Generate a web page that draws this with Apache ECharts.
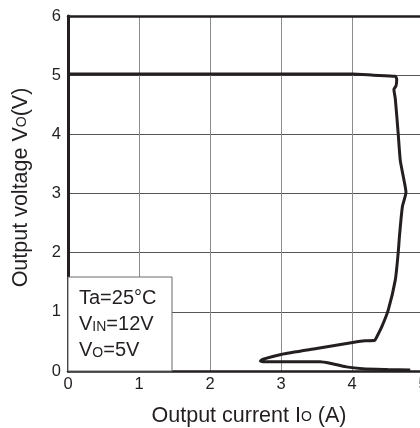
<!DOCTYPE html>
<html><head><meta charset="utf-8">
<script src="https://cdn.jsdelivr.net/npm/echarts@6/dist/echarts.min.js"></script>
<style>html,body{margin:0;padding:0;background:#fff}#c{width:420px;height:428px}</style>
</head><body><div id="c"></div>
<script>
const xTicks = [0, 1, 2, 3, 4, 5];
const yTicks = [0, 1, 2, 3, 4, 5, 6];
const currentA = [0, 1, 2, 3, 4.0, 4.3, 4.61, 4.63, 4.62, 4.59, 4.61, 4.65, 4.68, 4.72, 4.76, 4.71, 4.67, 4.65, 4.61, 4.51, 4.42, 4.35, 4.32, 4.18, 4.01, 3.5, 3.0, 2.75, 2.71, 2.79, 3.55, 3.69, 3.92, 4.15, 4.5, 4.82];
const voltageV = [5.02, 5.02, 5.02, 5.02, 5.02, 5.0, 4.98, 4.93, 4.82, 4.76, 4.6, 4.02, 3.56, 3.3, 3.02, 2.78, 2.3, 1.99, 1.54, 1.03, 0.75, 0.58, 0.52, 0.51, 0.48, 0.38, 0.28, 0.2, 0.17, 0.155, 0.155, 0.13, 0.07, 0.04, 0.025, 0.015];
const noteLines = ['Ta=25°C', 'V{s|IN}=12V', 'V{s|O}=5V'];

const font = 'Liberation Sans, Arial, sans-serif';
const ink = '#231f20';
const chart = echarts.init(document.getElementById('c'));
chart.setOption({
  animation: false,
  grid: { left: 68, top: 16, width: 355, height: 355, containLabel: false, outerBoundsMode: 'none' },
  xAxis: [{
    type: 'value', min: 0, max: 5, interval: 1,
    name: 'Output current I{s|O} (A)', nameLocation: 'middle', nameGap: 34,
    nameTextStyle: { fontFamily: font, fontSize: 21.5, color: ink, padding: [0, 0, 0, 7],
      rich: { s: { fontFamily: font, fontSize: 14, color: ink, verticalAlign: 'bottom', padding: [0, 0, 3, 0] } } },
    axisLine: { show: true, lineStyle: { color: ink, width: 2.5 } },
    axisTick: { show: false },
    axisLabel: { fontFamily: font, fontSize: 16.5, color: ink, margin: 5 },
    splitLine: { show: true, lineStyle: { color: '#8c8c8c', width: 1 } }
  }, {
    type: 'value', min: 0, max: 5, position: 'top',
    axisLine: { show: true, onZero: false, lineStyle: { color: ink, width: 2.5 } },
    axisTick: { show: false }, axisLabel: { show: false }, splitLine: { show: false }
  }],
  yAxis: {
    type: 'value', min: 0, max: 6, interval: 1,
    name: 'Output voltage V{s|O}(V)', nameLocation: 'middle', nameGap: 36,
    nameTextStyle: { fontFamily: font, fontSize: 21.5, color: ink, padding: [0, 0, 0, 12],
      rich: { s: { fontFamily: font, fontSize: 14, color: ink, verticalAlign: 'bottom', padding: [0, 0, 3, 0] } } },
    axisLine: { show: true, lineStyle: { color: ink, width: 3 } },
    axisTick: { show: false },
    axisLabel: { fontFamily: font, fontSize: 16.5, color: ink, margin: 7 },
    splitLine: { show: true, lineStyle: { color: '#555', width: 1 } }
  },
  graphic: [{
    type: 'rect', shape: { x: 68, y: 277, width: 104, height: 94 },
    style: { fill: '#fff', stroke: '#6a6a6a', lineWidth: 1 }, z: 10
  }, {
    type: 'text', x: 79, y: 285, z: 11,
    style: { text: noteLines.join('\n'), fontFamily: font, fontSize: 20, fill: ink, lineHeight: 26,
      rich: { s: { fontFamily: font, fontSize: 14, fill: ink, verticalAlign: 'bottom', padding: [0, 0, 3, 0] } } }
  }],
  series: [{
    type: 'line', xAxisIndex: 0, showSymbol: false, smooth: 0.2,
    data: currentA.map((v, i) => [v, voltageV[i]]),
    lineStyle: { color: ink, width: 3 }, z: 5
  }]
});
</script></body></html>
